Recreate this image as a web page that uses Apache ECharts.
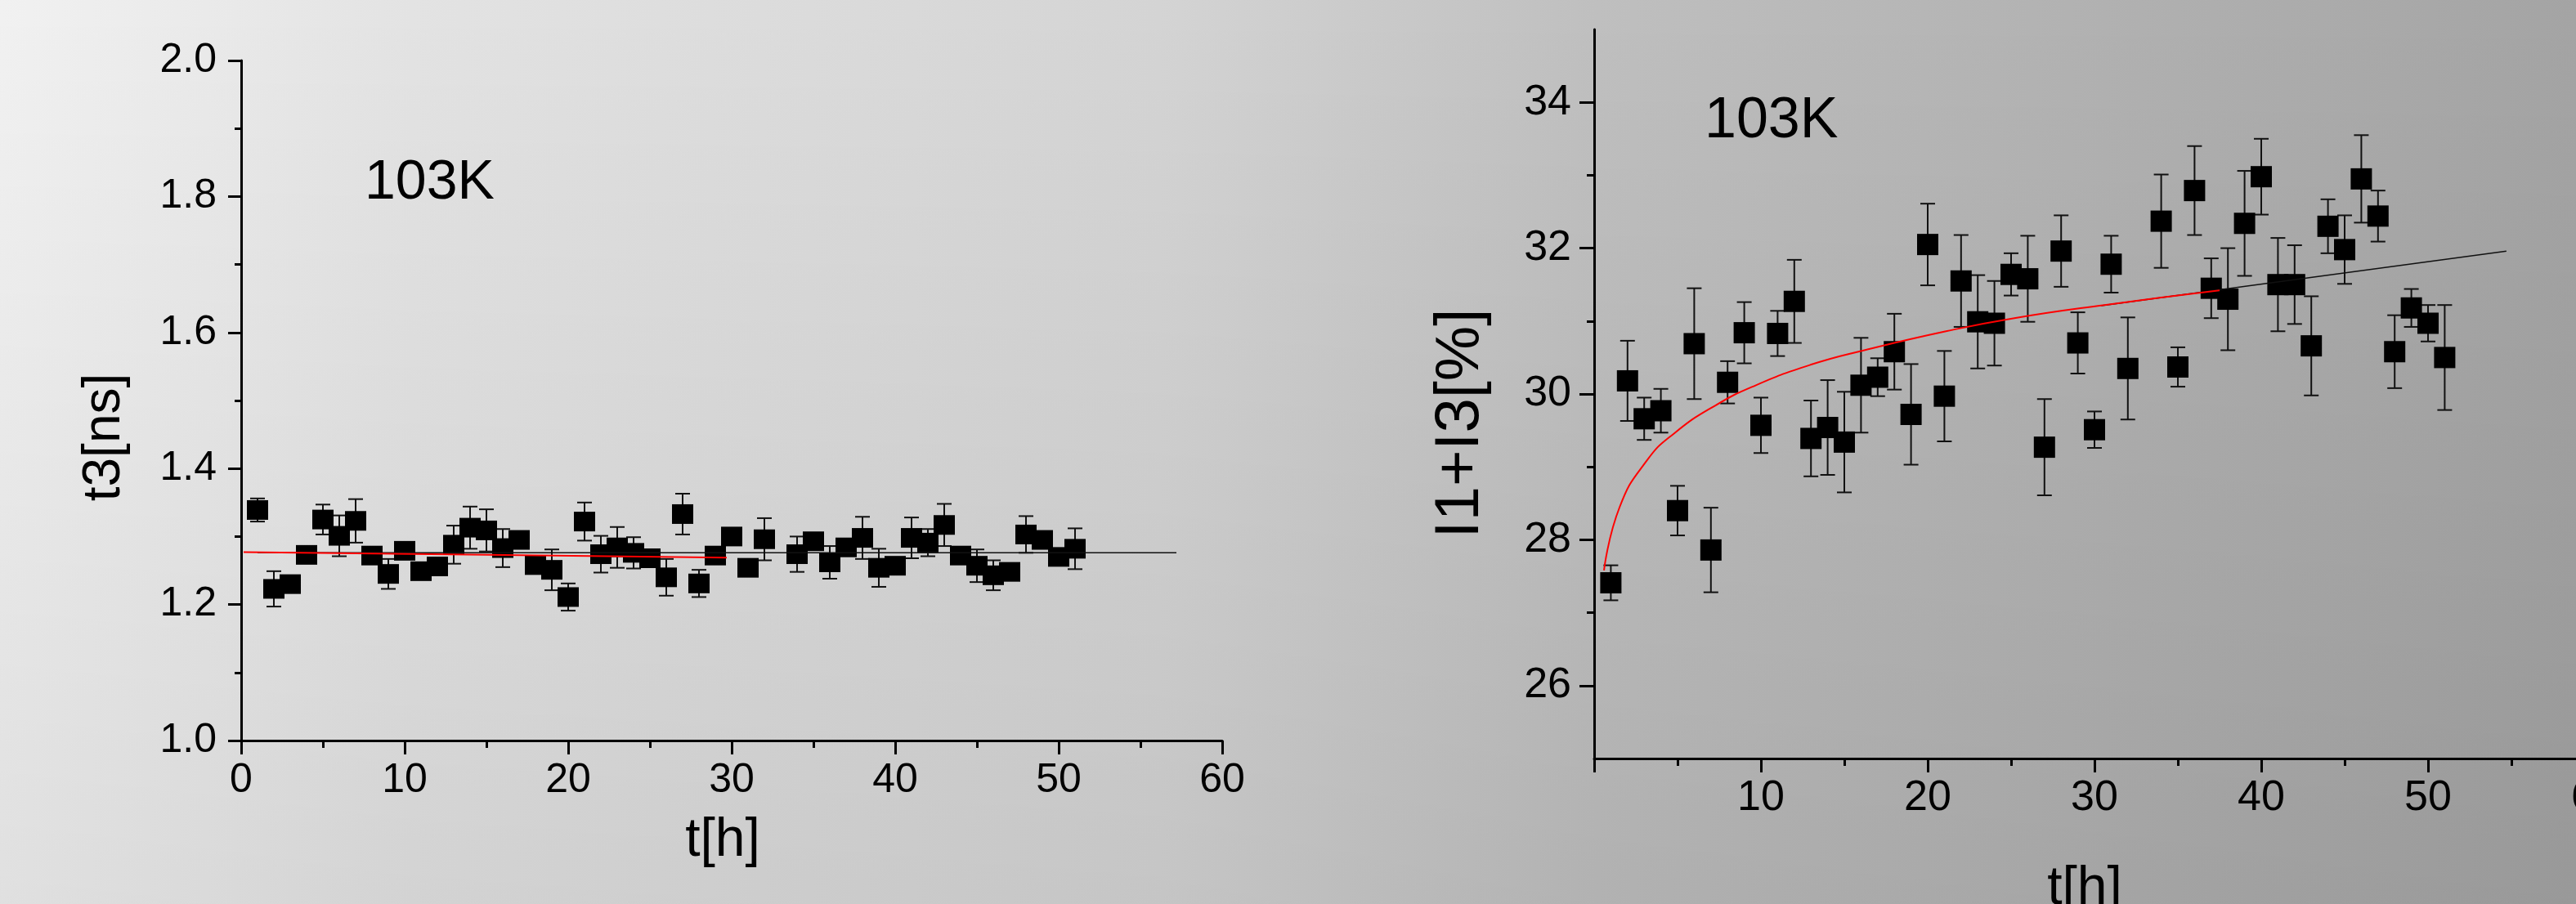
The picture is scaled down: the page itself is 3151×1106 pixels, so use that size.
<!DOCTYPE html>
<html>
<head>
<meta charset="utf-8">
<script src="https://cdn.jsdelivr.net/npm/echarts@6/dist/echarts.min.js"></script>
<style>
  html, body { margin: 0; padding: 0; }
  #chart {
    width: 3151px; height: 1106px;
    background:
      linear-gradient(to bottom, rgba(0,0,0,0) 0%, rgba(0,0,0,0.07) 100%),
      linear-gradient(to right, #f1f1f1 0%, #e3e3e3 16%, #d4d4d4 45%, #bfbfbf 62%, #a4a4a4 100%);
  }
</style>
</head>
<body>
<div id="chart"></div>
<script>
// ---------- Left panel: t3 [ns] vs t [h] ----------
const leftX = [1,2,3,4,5,6,7,8,9,10,11,12,13,14,15,16,17,18,19,20,21,22,23,24,25,26,27,28,29,30,31,32,34,35,36,37,38,39,40,41,42,43,44,45,46,47,48,49,50,51];
const leftT3 = [1.339,1.223,1.230,1.273,1.325,1.301,1.323,1.272,1.245,1.279,1.249,1.256,1.288,1.313,1.309,1.283,1.295,1.258,1.251,1.211,1.322,1.274,1.284,1.276,1.268,1.240,1.333,1.231,1.272,1.300,1.254,1.296,1.274,1.293,1.262,1.284,1.298,1.254,1.257,1.298,1.291,1.317,1.272,1.257,1.243,1.248,1.303,1.295,1.270,1.282];
const leftErr = [0.017,0.026,0.005,0.004,0.022,0.030,0.032,0.005,0.022,0.004,0.010,0.007,0.028,0.031,0.031,0.028,0.004,0.008,0.030,0.020,0.028,0.027,0.030,0.023,0.004,0.027,0.030,0.020,0.004,0.004,0.004,0.031,0.026,0.004,0.024,0.004,0.031,0.028,0.006,0.030,0.020,0.031,0.004,0.024,0.022,0.004,0.027,0.005,0.005,0.030];
const leftFitRed = [[0.15,1.277],[15,1.273],[29.7,1.269]];
const leftFitBlack = [[1,1.276],[57.2,1.276]];

// ---------- Right panel: I1+I3 [%] vs t [h] ----------
const rightX = [1,2,3,4,5,6,7,8,9,10,11,12,13,14,15,16,17,18,19,20,21,22,23,24,25,26,27,28,29,30,31,32,34,35,36,37,38,39,40,41,42,43,44,45,46,47,48,49,50,51];
const rightI = [27.41,30.18,29.66,29.77,28.40,30.69,27.86,30.16,30.84,29.57,30.83,31.27,29.39,29.54,29.34,30.12,30.23,30.58,29.72,32.05,29.97,31.55,30.99,30.97,31.64,31.58,29.27,31.96,30.70,29.51,31.78,30.35,32.37,30.37,32.79,31.45,31.30,32.34,32.98,31.50,31.50,30.66,32.30,31.98,32.95,32.44,30.58,31.18,30.97,30.50];
const rightErr = [0.24,0.55,0.29,0.30,0.34,0.76,0.58,0.29,0.42,0.38,0.31,0.57,0.52,0.65,0.69,0.65,0.26,0.52,0.69,0.56,0.62,0.63,0.64,0.58,0.29,0.59,0.66,0.49,0.42,0.25,0.39,0.70,0.64,0.27,0.61,0.41,0.70,0.72,0.52,0.64,0.54,0.68,0.37,0.47,0.60,0.35,0.50,0.26,0.25,0.72];
const rightFitRed = [[0.59,27.58],[1.53,28.45],[3.17,29.09],[4.8,29.46],[7.25,29.84],[9.7,30.12],[12.97,30.40],[16.2,30.60],[21.1,30.86],[25.2,31.04],[30.6,31.22],[37.5,31.42]];
const rightFitBlack = [[30.4,31.21],[54.7,31.96]];
const rightYMajor = [26,28,30,32,34];
const rightYMinor = [27,29,31,33];

const FONT = "'Liberation Sans', Arial, sans-serif";

function errBarRender(cap) {
  return function (params, api) {
    const x = api.value(0), y = api.value(1), e = api.value(2);
    const top = api.coord([x, y + e]);
    const bot = api.coord([x, y - e]);
    const st = { stroke: '#111', lineWidth: 2 };
    return {
      type: 'group',
      children: [
        { type: 'line', shape: { x1: top[0], y1: top[1], x2: bot[0], y2: bot[1] }, style: st },
        { type: 'line', shape: { x1: top[0] - cap, y1: top[1], x2: top[0] + cap, y2: top[1] }, style: st },
        { type: 'line', shape: { x1: bot[0] - cap, y1: bot[1], x2: bot[0] + cap, y2: bot[1] }, style: st }
      ]
    };
  };
}

const axisLineStyle = { color: '#000', width: 3 };
function xAxisCfg(gridIndex, fs, margin, showMin) {
  return {
    type: 'value', gridIndex, min: 0, max: 60, interval: 10,
    axisLine: { show: true, onZero: false, lineStyle: axisLineStyle },
    axisTick: { show: true, inside: false, length: 17, lineStyle: { color: '#000', width: 3 } },
    minorTick: { show: true, splitNumber: 2, length: 9, lineStyle: { color: '#000', width: 3 } },
    axisLabel: { show: true, showMinLabel: showMin, fontSize: fs, margin, color: '#000', fontFamily: FONT },
    splitLine: { show: false }, minorSplitLine: { show: false }
  };
}

const leftData = leftX.map((x, i) => [x, leftT3[i], leftErr[i]]);
const rightData = rightX.map((x, i) => [x, rightI[i], rightErr[i]]);

const chart = echarts.init(document.getElementById('chart'), null, { renderer: 'canvas' });
chart.setOption({
  backgroundColor: 'transparent',
  animation: false,
  grid: [
    { left: 295, top: 74, width: 1200, height: 832, outerBoundsMode: 'none', containLabel: false },
    { left: 1950, top: 36, width: 1224, height: 892, outerBoundsMode: 'none', containLabel: false }
  ],
  xAxis: [
    xAxisCfg(0, 50, 24, true),
    xAxisCfg(1, 52, 23, false)
  ],
  yAxis: [
    {
      type: 'value', gridIndex: 0, min: 1.0, max: 2.0, interval: 0.2,
      axisLine: { show: true, onZero: false, lineStyle: axisLineStyle },
      axisTick: { show: true, inside: false, length: 16, lineStyle: { color: '#000', width: 3 } },
      minorTick: { show: true, splitNumber: 2, length: 8, lineStyle: { color: '#000', width: 3 } },
      axisLabel: { fontSize: 50, margin: 30, color: '#000', fontFamily: FONT,
                   formatter: v => (Math.round(v * 10) / 10).toFixed(1) },
      splitLine: { show: false }, minorSplitLine: { show: false }
    },
    {
      type: 'value', gridIndex: 1, min: 25, max: 35, position: 'left',
      axisLine: { show: true, onZero: false, lineStyle: axisLineStyle },
      axisTick: { show: true, inside: false, length: 18, customValues: rightYMajor, lineStyle: { color: '#000', width: 3 } },
      axisLabel: { fontSize: 52, margin: 28, color: '#000', fontFamily: FONT, customValues: rightYMajor },
      splitLine: { show: false }
    },
    {
      type: 'value', gridIndex: 1, min: 25, max: 35, position: 'left', offset: 0,
      axisLine: { show: false },
      axisTick: { show: true, inside: false, length: 9, customValues: rightYMinor, lineStyle: { color: '#000', width: 3 } },
      axisLabel: { show: false },
      splitLine: { show: false }
    }
  ],
  series: [
    { type: 'custom', xAxisIndex: 0, yAxisIndex: 0, renderItem: errBarRender(9), data: leftData, encode: { x: 0, y: 1 }, z: 1 },
    { type: 'scatter', xAxisIndex: 0, yAxisIndex: 0, symbol: 'rect', symbolSize: [26, 24],
      itemStyle: { color: '#000', opacity: 1 }, data: leftData.map(d => [d[0], d[1]]), z: 2 },
    { type: 'line', xAxisIndex: 0, yAxisIndex: 0, data: leftFitBlack, showSymbol: false,
      lineStyle: { color: '#111', width: 1.5 }, z: 3 },
    { type: 'line', xAxisIndex: 0, yAxisIndex: 0, data: leftFitRed, showSymbol: false,
      lineStyle: { color: '#ff0000', width: 2 }, z: 4 },

    { type: 'custom', xAxisIndex: 1, yAxisIndex: 1, renderItem: errBarRender(9), data: rightData, encode: { x: 0, y: 1 }, z: 1 },
    { type: 'scatter', xAxisIndex: 1, yAxisIndex: 1, symbol: 'rect', symbolSize: 26,
      itemStyle: { color: '#000', opacity: 1 }, data: rightData.map(d => [d[0], d[1]]), z: 2 },
    { type: 'line', xAxisIndex: 1, yAxisIndex: 1, data: rightFitBlack, showSymbol: false,
      lineStyle: { color: '#111', width: 1.5 }, z: 3 },
    { type: 'line', xAxisIndex: 1, yAxisIndex: 1, data: rightFitRed, showSymbol: false, smooth: true,
      lineStyle: { color: '#ff0000', width: 2 }, z: 4 }
  ],
  graphic: [
    { type: 'text', left: 446, top: 190, style: { text: '103K', font: '68px ' + FONT, fill: '#000' } },
    { type: 'text', left: 2085, top: 114, style: { text: '103K', font: '70px ' + FONT, fill: '#000' } },
    { type: 'text', x: 128, y: 535, rotation: Math.PI / 2,
      style: { text: 't3[ns]', font: '64px ' + FONT, fill: '#000', align: 'center', verticalAlign: 'middle' } },
    { type: 'text', x: 884, y: 1029,
      style: { text: 't[h]', font: '66px ' + FONT, fill: '#000', align: 'center', verticalAlign: 'middle' } },
    { type: 'text', x: 1787, y: 518, rotation: Math.PI / 2,
      style: { text: 'I1+I3[%]', font: '76px ' + FONT, fill: '#000', align: 'center', verticalAlign: 'middle' } },
    { type: 'text', x: 2550, y: 1088,
      style: { text: 't[h]', font: '66px ' + FONT, fill: '#000', align: 'center', verticalAlign: 'middle' } }
  ]
});
</script>
</body>
</html>
